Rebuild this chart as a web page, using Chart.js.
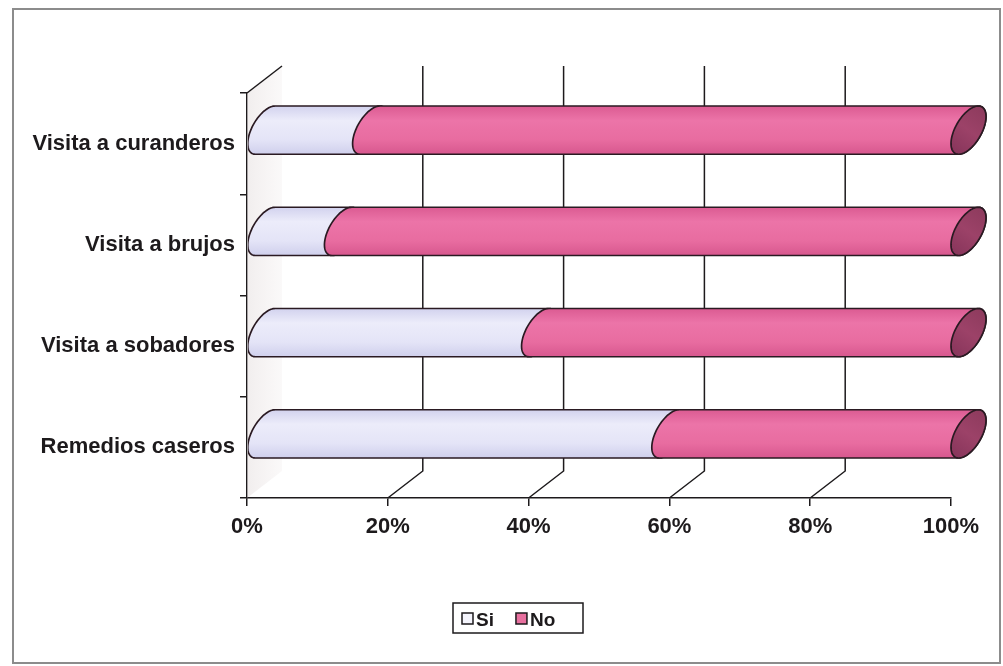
<!DOCTYPE html>
<html>
<head>
<meta charset="utf-8">
<script src="https://cdn.jsdelivr.net/npm/chart.js@4/dist/chart.umd.min.js"></script>
<style>
  html, body { margin: 0; padding: 0; background: #ffffff; }
  canvas { display: block; }
</style>
</head>
<body>
<canvas id="chart" width="1003" height="666"></canvas>
<script>
// Categories and the share (%) answering "Si" / "No"
const categories = ['Visita a curanderos', 'Visita a brujos', 'Visita a sobadores', 'Remedios caseros'];
const seriesNames = ['Si', 'No'];
const siValues = [15, 11, 39, 57.5];
const noValues = [85, 89, 61, 42.5];
const xTickStep = 20;

const FONT = '"Liberation Sans", Arial, Helvetica, sans-serif';
const INK = '#1d1a1c';

// depth of the box (oblique projection), in pixels
const DX = 35, DY = -27;

const siColors = { stops: ['#d2d2ee', '#ececfa', '#e4e4f7', '#cfcfec'], cap: '#dcdcf2' };
const noColors = { stops: ['#db5b92', '#ec74a8', '#e86ca0', '#d7578e'], cap: '#9c4268' };
const seriesColors = [siColors, noColors];

// point on the tilted cross-section ellipse of a cylinder
function ellPt(cx, cy, r, t) {
  const vx = DX / 2, vy = DY / 2;
  return [cx + vx * Math.sin(t), cy - r * Math.cos(t) + vy * Math.sin(t)];
}

function cylinderSegment(ctx, x0, x1, cy, r, colors, withCap) {
  const tTop = Math.atan2(-DY / 2, r);
  const N = 48;
  ctx.beginPath();
  for (let k = 0; k <= N; k++) {
    const t = tTop + Math.PI * k / N;
    const p = ellPt(x1, cy, r, t);
    k === 0 ? ctx.moveTo(p[0], p[1]) : ctx.lineTo(p[0], p[1]);
  }
  for (let k = 0; k <= N; k++) {
    const t = tTop + Math.PI + Math.PI * k / N;
    const p = ellPt(x0, cy, r, t);
    ctx.lineTo(p[0], p[1]);
  }
  ctx.closePath();
  const ext = Math.sqrt(r * r + (DY / 2) * (DY / 2));
  const g = ctx.createLinearGradient(0, cy - ext, 0, cy + ext);
  g.addColorStop(0, colors.stops[0]);
  g.addColorStop(0.3, colors.stops[1]);
  g.addColorStop(0.7, colors.stops[2]);
  g.addColorStop(1, colors.stops[3]);
  ctx.fillStyle = g;
  ctx.fill();
  ctx.lineWidth = 1.7;
  ctx.strokeStyle = '#2a1a22';
  ctx.stroke();

  if (withCap) {
    ctx.beginPath();
    for (let k = 0; k <= 2 * N; k++) {
      const t = Math.PI * k / N;
      const p = ellPt(x1, cy, r, t);
      k === 0 ? ctx.moveTo(p[0], p[1]) : ctx.lineTo(p[0], p[1]);
    }
    ctx.closePath();
    const cg = ctx.createLinearGradient(x1 - DX / 2, cy + ext, x1 + DX / 2, cy - ext);
    cg.addColorStop(0, '#86345a');
    cg.addColorStop(0.5, colors.cap);
    cg.addColorStop(1, '#8c3a5c');
    ctx.fillStyle = cg;
    ctx.fill();
    ctx.stroke();
  }
}

const box3d = {
  id: 'box3d',
  beforeDraw(chart) {
    const ctx = chart.ctx;
    ctx.save();
    ctx.fillStyle = '#ffffff';
    ctx.fillRect(0, 0, chart.width, chart.height);
    ctx.strokeStyle = '#8c8c8c';
    ctx.lineWidth = 2;
    ctx.strokeRect(13, 9, 987, 654);
    ctx.restore();
  },
  beforeDatasetsDraw(chart) {
    const ctx = chart.ctx;
    const a = chart.chartArea;
    const xs = chart.scales.x;
    ctx.save();
    // side wall
    const wg = ctx.createLinearGradient(a.left, 0, a.left + DX, 0);
    wg.addColorStop(0, 'rgba(215,205,205,0.35)');
    wg.addColorStop(1, 'rgba(225,215,215,0.15)');
    ctx.fillStyle = wg;
    ctx.beginPath();
    ctx.moveTo(a.left, a.top);
    ctx.lineTo(a.left + DX, a.top + DY);
    ctx.lineTo(a.left + DX, a.bottom + DY);
    ctx.lineTo(a.left, a.bottom);
    ctx.closePath();
    ctx.fill();

    ctx.strokeStyle = INK;
    ctx.lineWidth = 1.5;
    // top edge of the side wall
    ctx.beginPath();
    ctx.moveTo(a.left, a.top);
    ctx.lineTo(a.left + DX, a.top + DY);
    ctx.stroke();
    // back wall gridlines and floor lines
    xs.ticks.forEach(tk => {
      if (tk.value <= xs.min || tk.value >= xs.max) return;
      const px = xs.getPixelForValue(tk.value);
      ctx.beginPath();
      ctx.moveTo(px, a.bottom);
      ctx.lineTo(px + DX, a.bottom + DY);
      ctx.lineTo(px + DX, a.top + DY);
      ctx.stroke();
    });
    ctx.restore();
  },
  beforeDatasetDraw() {
    return false;
  },
  afterDatasetsDraw(chart) {
    const ctx = chart.ctx;
    const a = chart.chartArea;
    ctx.save();
    ctx.beginPath();
    ctx.rect(a.left + 1, 0, chart.width, chart.height);
    ctx.clip();
    const nSets = chart.data.datasets.length;
    const nBars = chart.data.labels.length;
    for (let j = 0; j < nBars; j++) {
      for (let i = 0; i < nSets; i++) {
        const el = chart.getDatasetMeta(i).data[j];
        const p = el.getProps(['x', 'y', 'base', 'height'], true);
        const r = p.height / 2;
        const cy = p.y + DY / 2;
        const x0 = Math.min(p.base, p.x) + DX / 2;
        const x1 = Math.max(p.base, p.x) + DX / 2;
        cylinderSegment(ctx, x0, x1, cy, r, seriesColors[i], i === nSets - 1);
      }
    }
    ctx.restore();
  },
  afterDraw(chart) {
    // legend
    const ctx = chart.ctx;
    ctx.save();
    ctx.font = 'bold 19px ' + FONT;
    ctx.textBaseline = 'alphabetic';
    const left = 453, top = 603, h = 30, w = 130;
    const sw = 11, gapAfterSwatch = 3, itemGap = 22;
    let x = left + 9;
    const swatchFill = ['#f4f4fc', '#e8709f'];
    chart.data.datasets.forEach((ds, i) => {
      ctx.fillStyle = swatchFill[i];
      ctx.fillRect(x, top + 10, sw, sw);
      ctx.strokeStyle = INK;
      ctx.lineWidth = 1.5;
      ctx.strokeRect(x, top + 10, sw, sw);
      x += sw + gapAfterSwatch;
      ctx.fillStyle = INK;
      ctx.fillText(ds.label, x, top + 23);
      x += ctx.measureText(ds.label).width + itemGap;
    });
    ctx.strokeStyle = INK;
    ctx.lineWidth = 1.5;
    ctx.strokeRect(left, top, w, h);
    ctx.restore();
  }
};

new Chart(document.getElementById('chart'), {
  type: 'bar',
  data: {
    labels: categories,
    datasets: [
      { label: seriesNames[0], data: siValues, backgroundColor: '#e4e4f7', barThickness: 40 },
      { label: seriesNames[1], data: noValues, backgroundColor: '#e8709f', barThickness: 40 }
    ]
  },
  options: {
    indexAxis: 'y',
    responsive: false,
    animation: false,
    layout: { padding: { top: 93, right: 52, bottom: 108, left: 20 } },
    plugins: { legend: { display: false }, tooltip: { enabled: false } },
    scales: {
      x: {
        stacked: true,
        min: 0,
        max: 100,
        ticks: {
          stepSize: xTickStep,
          callback: v => v + '%',
          font: { family: FONT, size: 22, weight: 'bold' },
          color: INK,
          padding: 8,
          maxRotation: 0
        },
        grid: { drawOnChartArea: false, tickLength: 8, color: INK, lineWidth: 1.5 },
        border: { color: INK, width: 1.5 },
        afterFit: s => { s.height = 60; }
      },
      y: {
        stacked: true,
        ticks: {
          font: { family: FONT, size: 22, weight: 'bold' },
          color: INK,
          padding: 5
        },
        grid: { drawOnChartArea: false, tickLength: 7, color: INK, lineWidth: 1.5 },
        border: { color: INK, width: 1.5 },
        afterFit: s => { s.width = 227; }
      }
    }
  },
  plugins: [box3d]
});
</script>
</body>
</html>
